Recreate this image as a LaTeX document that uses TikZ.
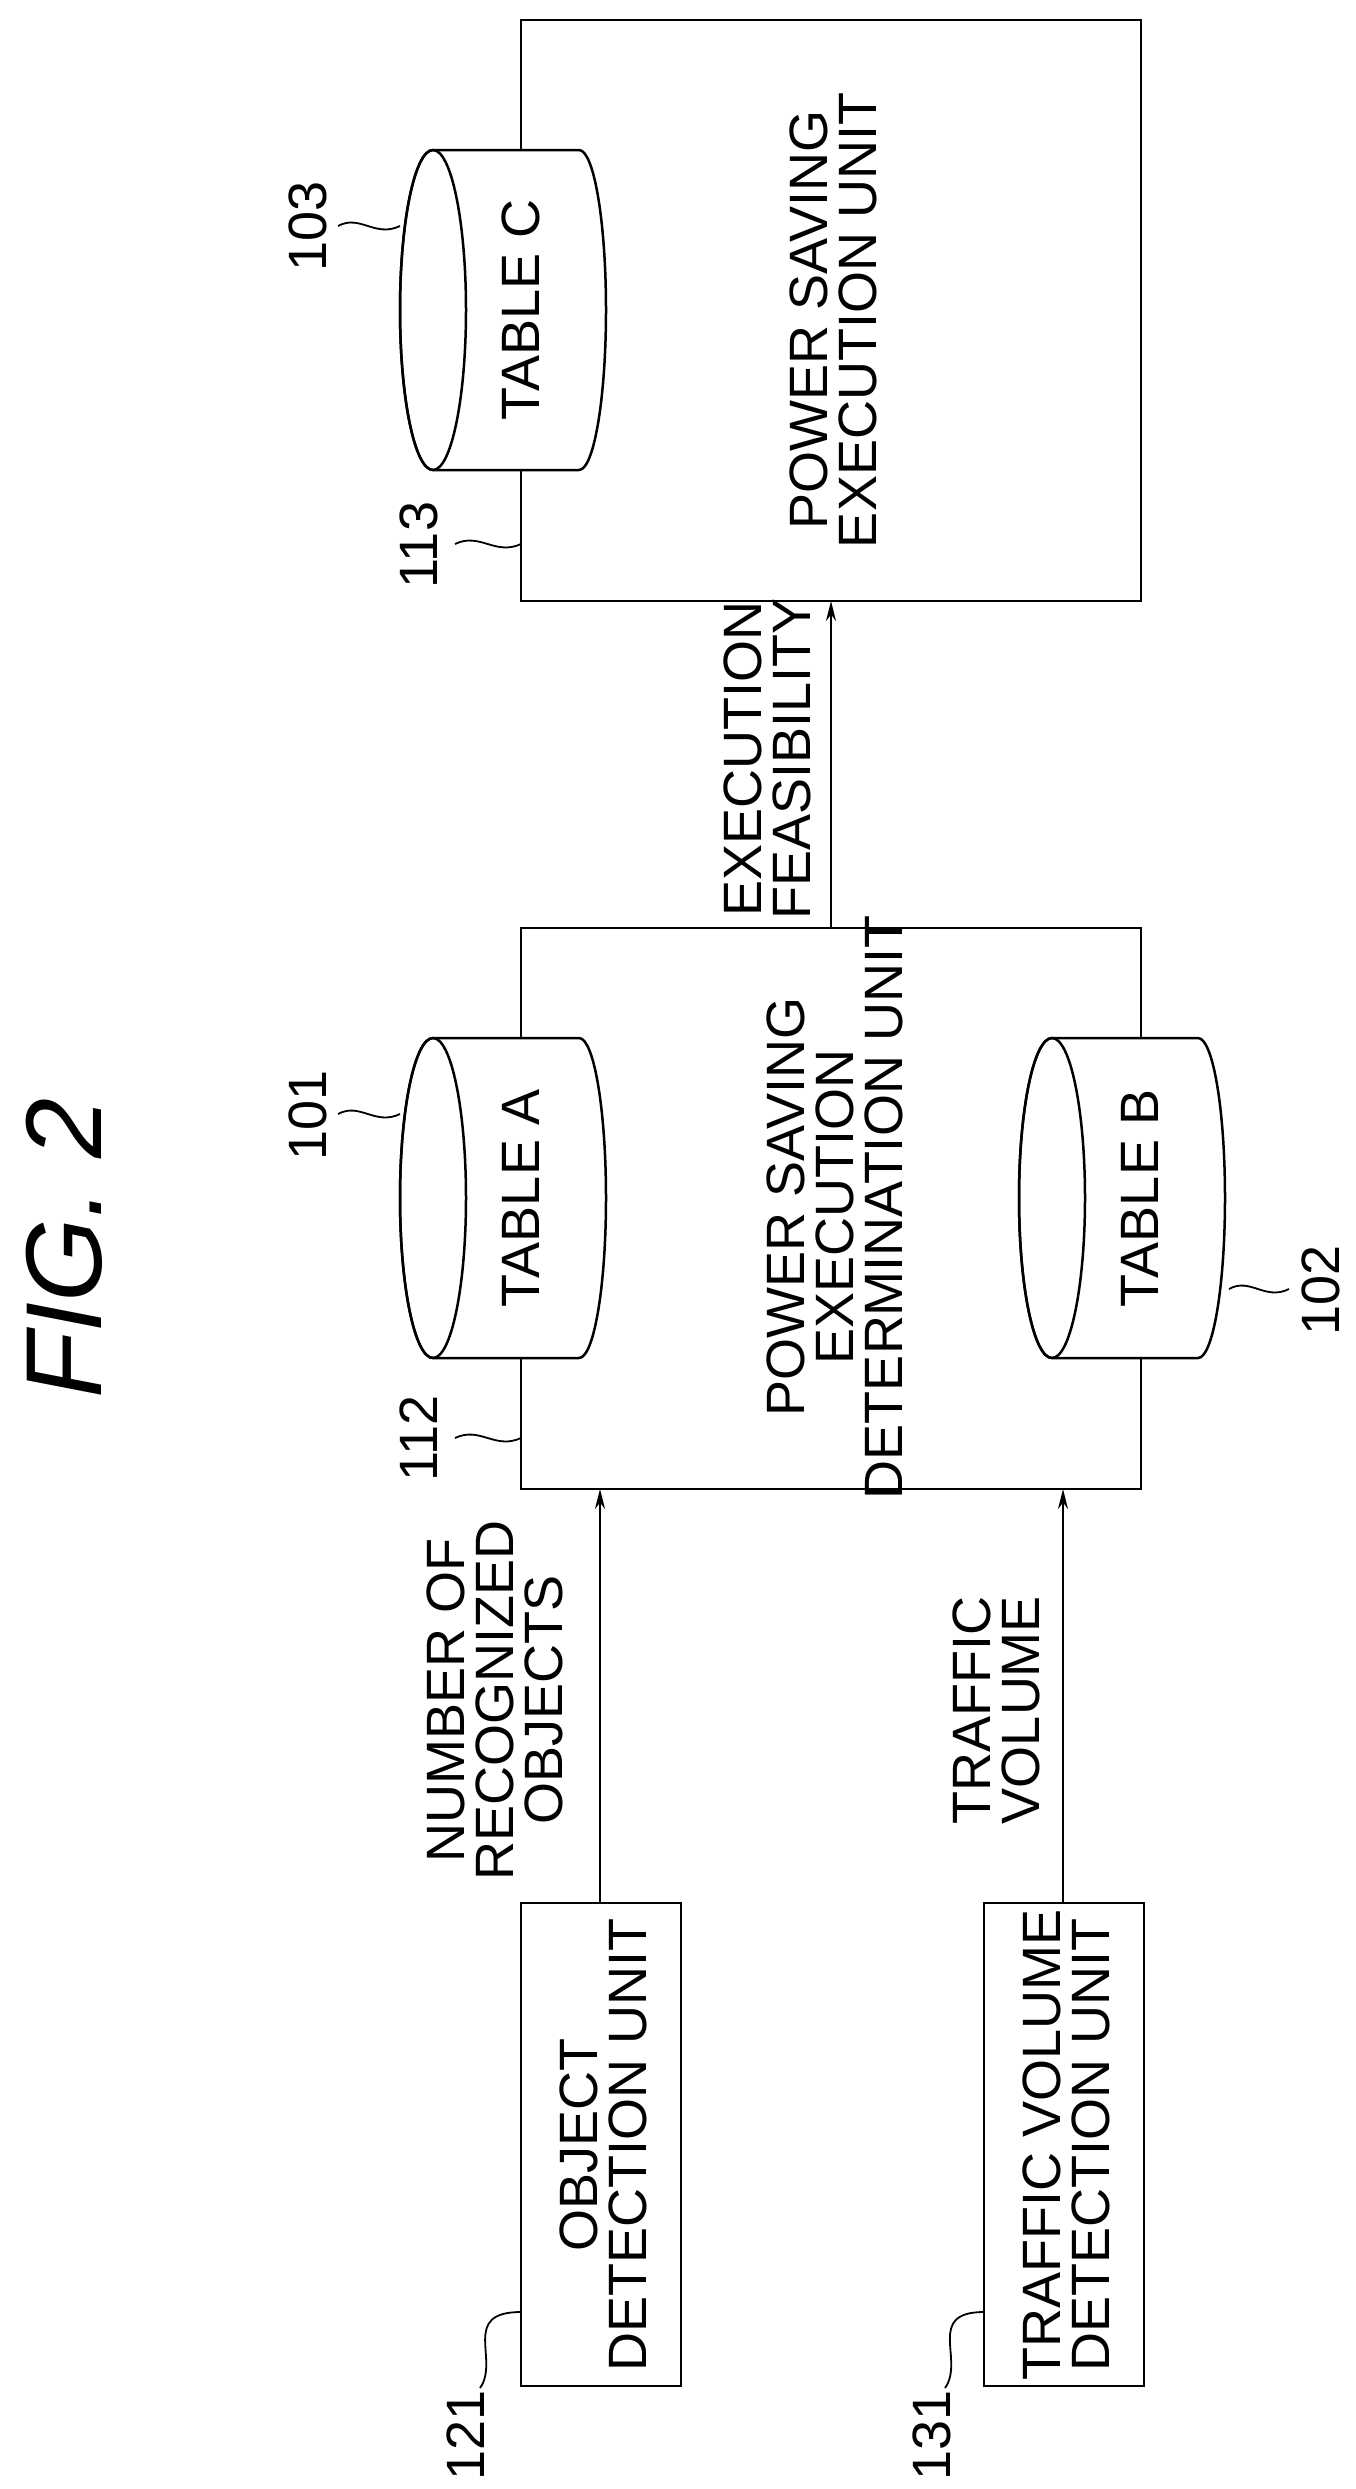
\documentclass[tikz,border=0pt]{standalone}
\usepackage{fontspec}
\setmainfont{Liberation Sans}
\usetikzlibrary{arrows.meta}
\newcommand{\mycyl}[4]{%
  \filldraw[fill=white,ln] (#2,-#3+160) -- (#2+146,-#3+160) arc[start angle=90,end angle=-90,x radius=27,y radius=160]
    -- (#2,-#3-160) arc[start angle=270,end angle=90,x radius=33,y radius=160] -- cycle;
  \draw[ln] (#2,-#3) ellipse[x radius=33,y radius=160];
  \node[txt] (#1) at (#2+88,-#3) {#4};}
\begin{document}
\begin{tikzpicture}[x=1pt,y=1pt,
  ln/.style={line width=2.5pt},
  thin/.style={line width=1.8pt},
  txt/.style={rotate=90,font=\fontsize{54}{49}\selectfont,align=center,inner sep=0},
  num/.style={rotate=90,font=\fontsize{54}{49}\selectfont,inner sep=0},
  box/.style={draw,line width=2.5pt,inner sep=0},
  arr/.style={line width=2.5pt,-{Stealth[length=20pt,width=10pt]}}]
\useasboundingbox (0,0) rectangle (1356,-2489);
\node[rotate=90,font=\fontsize{108}{108}\selectfont\itshape] (fig) at (64,-1248) {FIG. 2};
% boxes
\draw[ln] (521,-20) rectangle (1141,-601);
\coordinate (b113s) at (831,-601);
\node[txt] (t113) at (833,-320) {POWER SAVING\\EXECUTION UNIT};
\draw[ln] (521,-928) rectangle (1141,-1489);
\coordinate (b112n) at (831,-928);
\node[txt] (t112) at (835,-1207) {POWER SAVING\\EXECUTION\\DETERMINATION UNIT};
\draw[ln] (521,-1903) rectangle (681,-2386);
\node[txt] (t121) at (603,-2145) {OBJECT\\DETECTION UNIT};
\draw[ln] (984,-1903) rectangle (1144,-2386);
\node[txt] (t131) at (1066,-2145) {TRAFFIC VOLUME\\DETECTION UNIT};
% cylinders
\mycyl{tc}{433}{310}{TABLE C}
\mycyl{ta}{433}{1198}{TABLE A}
\mycyl{tb}{1052}{1198}{TABLE B}
% arrows
\coordinate (o1) at (600,-1903); \coordinate (i1) at (600,-1489);
\coordinate (o2) at (1063,-1903); \coordinate (i2) at (1063,-1489);
\draw[arr] (o1) -- (i1);
\draw[arr] (o2) -- (i2);
\draw[arr] (b112n) -- (b113s);
\node[txt] (l1) at (495,-1700) {NUMBER OF\\RECOGNIZED\\OBJECTS};
\node[txt] (l2) at (996,-1710) {TRAFFIC\\VOLUME};
\node[txt] (l3) at (767,-759) {EXECUTION\\FEASIBILITY};
% reference numbers
\node[num] (n103) at (308,-226) {103};
\draw[thin] (338,-226) .. controls (360,-214) and (375,-238) .. (400,-226);
\node[num] (n113) at (419,-545) {113};
\draw[thin] (455,-544) .. controls (480,-532) and (495,-556) .. (521,-544);
\node[num] (n101) at (308,-1115) {101};
\draw[thin] (338,-1114) .. controls (360,-1102) and (375,-1126) .. (400,-1114);
\node[num] (n112) at (419,-1438) {112};
\draw[thin] (455,-1438) .. controls (480,-1426) and (495,-1450) .. (521,-1438);
\node[num] (n102) at (1321,-1290) {102};
\draw[thin] (1229,-1289) .. controls (1250,-1277) and (1265,-1301) .. (1289,-1289);
\node[num] (n121) at (466,-2435) {121};
\draw[thin] (480,-2388) .. controls (500,-2360) and (460,-2312) .. (521,-2312);
\node[num] (n131) at (932,-2435) {131};
\draw[thin] (945,-2388) .. controls (965,-2360) and (925,-2312) .. (984,-2312);
\end{tikzpicture}
\end{document}
